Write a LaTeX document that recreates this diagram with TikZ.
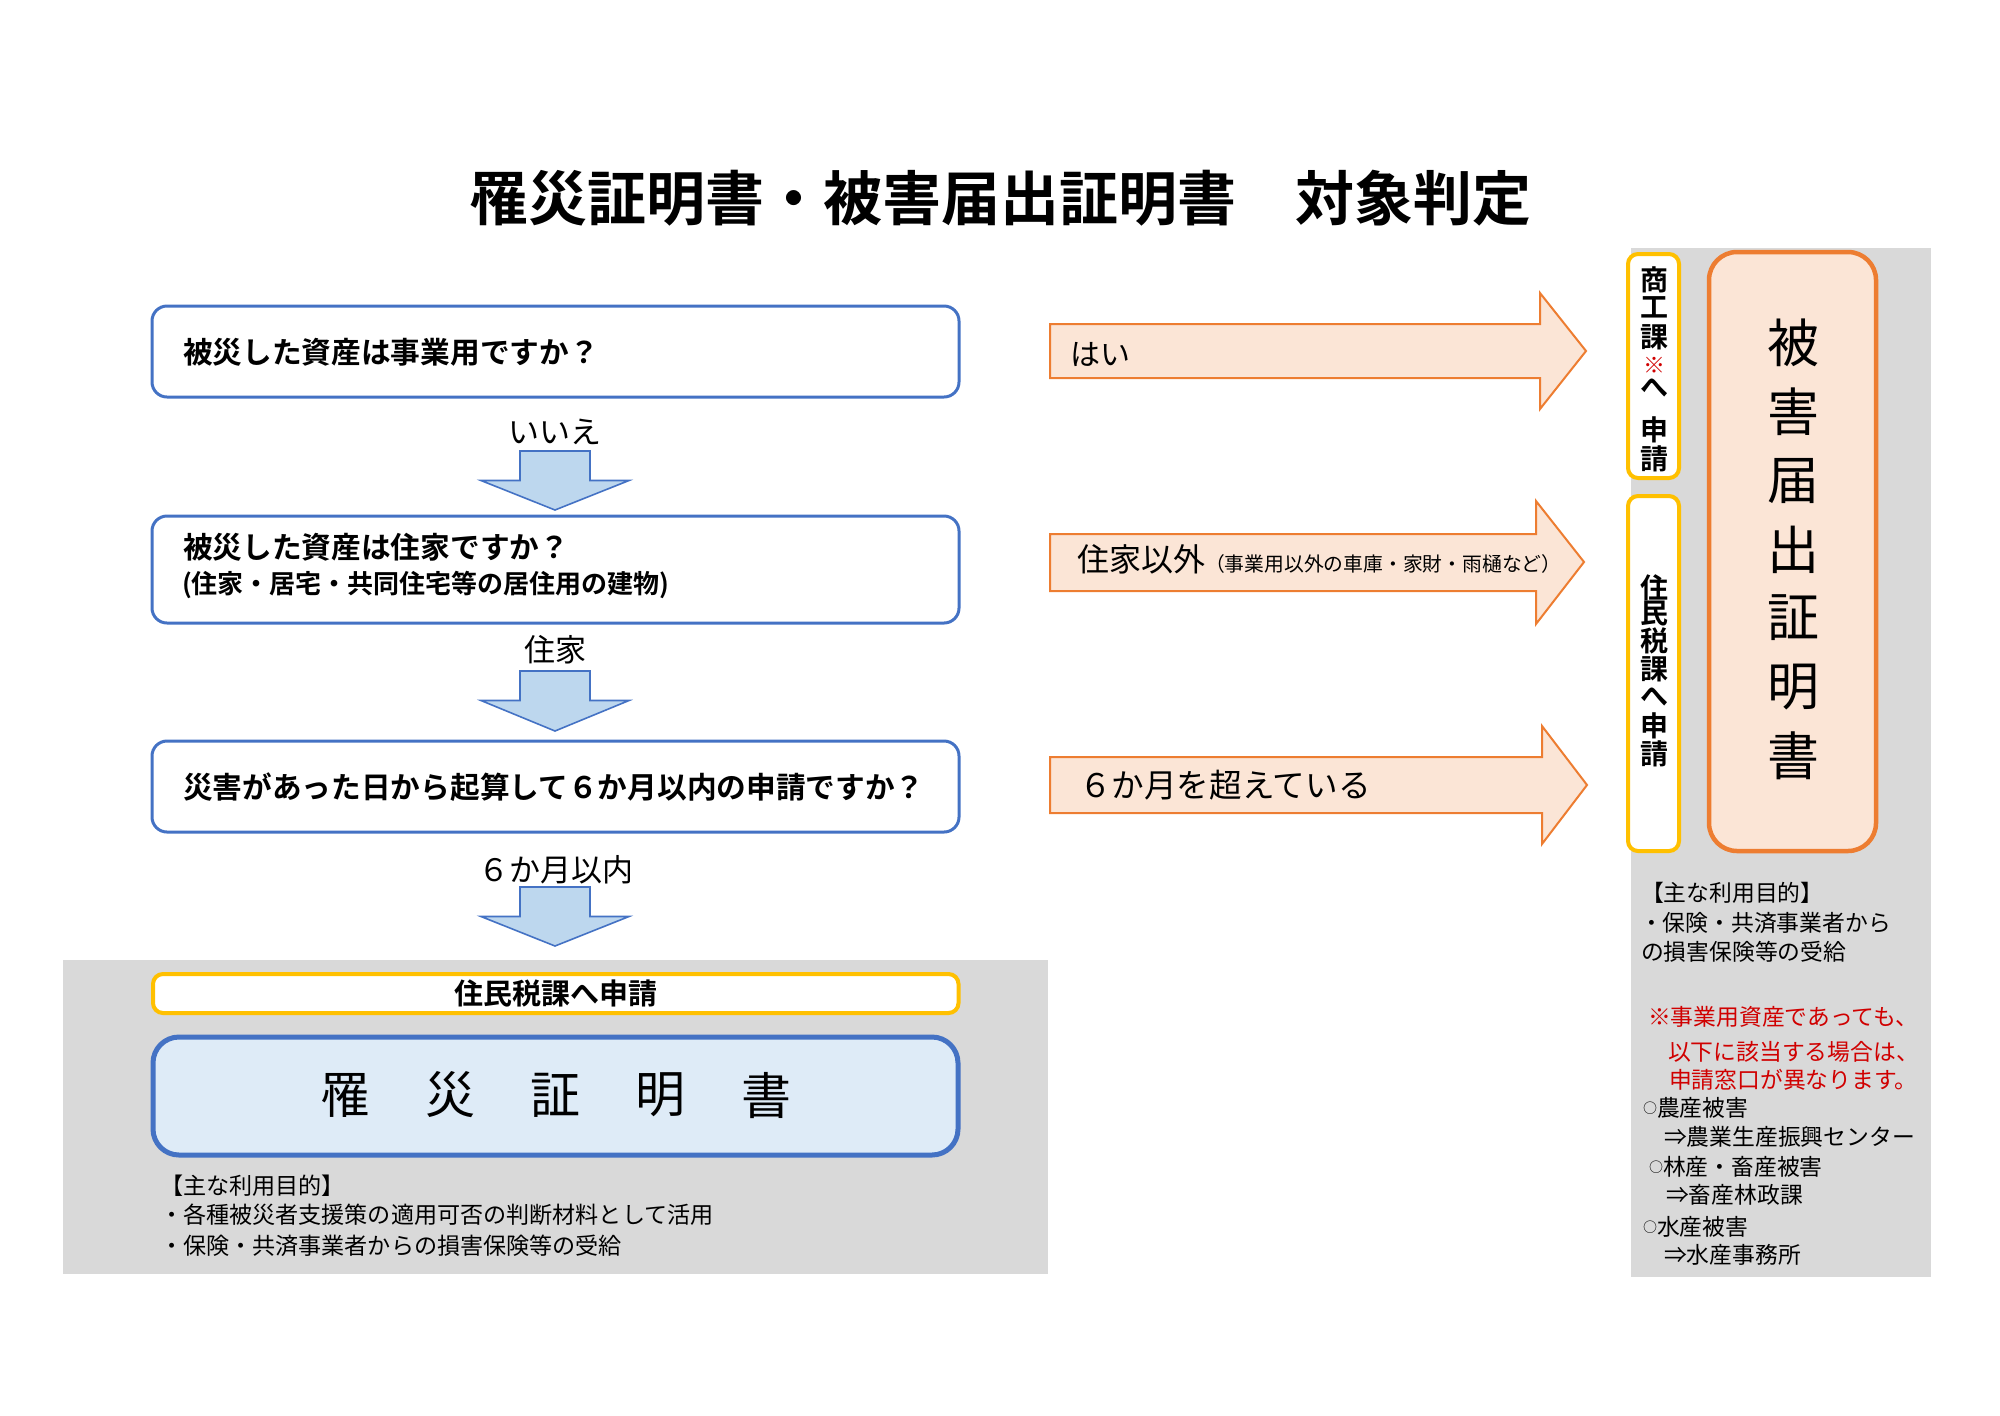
\documentclass[tikz,border=0pt]{standalone}
\usepackage{fontspec}
\setmainfont{Noto Sans CJK JP}[BoldFont={Noto Sans CJK JP Bold}]
\usetikzlibrary{fit}
\definecolor{qblue}{HTML}{4472C4}
\definecolor{lblue}{HTML}{DEEBF7}
\definecolor{ablue}{HTML}{BDD7EE}
\definecolor{peach}{HTML}{FBE5D6}
\definecolor{orng}{HTML}{ED7D31}
\definecolor{yel}{HTML}{FFC000}
\definecolor{gry}{HTML}{D9D9D9}
\definecolor{redtxt}{HTML}{D00000}
\newcommand\fsz[1]{\fontsize{#1pt}{#1pt}\selectfont}
\newcommand\smallcirc{\raisebox{1.8pt}{\fsz{7}○}}
\newcommand\blockdown[3]{\draw[barrow] (#1-35,#2) -- (#1+35,#2) -- (#1+35,#2+29.5) -- (#1+74,#2+29.5) -- (#1,#3) -- (#1-74,#2+29.5) -- (#1-35,#2+29.5) -- cycle;}
\newcommand\blockright[7]{\draw[oarrow] (1050,#1) -- (#3,#1) -- (#3,#4) -- (#6,#7) -- (#3,#5) -- (#3,#2) -- (1050,#2) -- cycle;}
\tikzset{
  qbox/.style={draw=qblue, line width=1.5pt, rounded corners=7.5pt, fill=white, inner sep=0pt},
  ybox/.style={draw=yel, line width=2pt, rounded corners=5pt, fill=white, inner sep=0pt},
  certbox/.style={draw=qblue, line width=2.5pt, rounded corners=13pt, fill=lblue, inner sep=0pt},
  obox/.style={draw=orng, line width=2.25pt, rounded corners=14pt, fill=peach, inner sep=0pt},
  panel/.style={fill=gry, draw=none, inner sep=0pt},
  barrow/.style={fill=ablue, draw=qblue, line width=0.8pt, line join=miter},
  oarrow/.style={fill=peach, draw=orng, line width=1pt, line join=miter},
  qtext/.style={anchor=west, font=\bfseries\fsz{14.85}},
  lbl/.style={font=\fsz{15.5}},
  otext/.style={anchor=west, font=\fsz{16.3}},
  note/.style={anchor=west, font=\fsz{11.55}},
  rnote/.style={anchor=west, font=\fsz{11.4}},
  vlab/.style={font=\bfseries\fsz{14}},
  vbig/.style={font=\fsz{26}},
  cert/.style={font=\fsz{25}}
}
\begin{document}
\begin{tikzpicture}[x=0.5pt,y=-0.5pt, every node/.style={inner sep=0pt, outer sep=0pt}]
\useasboundingbox (0,0) rectangle (2000,1415);

% title
\node[font=\bfseries\fsz{29.5}] (title) at (1000,198) {罹災証明書・被害届出証明書　対象判定};

% gray panels
\node[panel, fit={(62.5,960) (1048,1274)}] (leftpanel) {};
\node[panel, fit={(1631,248) (1931,1277)}] (rightpanel) {};

% question boxes
\node[qbox, fit={(152,306) (959,397)}] (q1) {};
\node[qtext] (q1t) at (183,352) {被災した資産は事業用ですか？};
\node[qbox, fit={(152,516) (959,623)}] (q2) {};
\node[qtext] (q2t) at (183,547) {被災した資産は住家ですか？};
\node[qtext, font=\bfseries\fsz{13}] (q2s) at (182,585) {(住家・居宅・共同住宅等の居住用の建物)};
\node[qbox, fit={(152,741) (959,832)}] (q3) {};
\node[qtext] (q3t) at (183,787) {災害があった日から起算して６か月以内の申請ですか？};

% down arrows
\node[lbl] (a1) at (555,432) {いいえ};
\blockdown{555}{451}{510}
\node[lbl] (a2) at (555,650) {住家};
\blockdown{555}{671}{731}
\node[lbl] (a3) at (556,870) {６か月以内};
\blockdown{555}{887}{946}

% bottom left
\node[ybox, fit={(153,974) (958.5,1013)}] (yb) {};
\node[font=\bfseries\fsz{14.5}] (ybt) at (556,993) {住民税課へ申請};
\node[certbox, fit={(153,1037) (958,1155)}] (rs) {};
\foreach \c/\x [count=\i] in {罹/345.5,災/450.6,証/555.8,明/660.9,書/766}
  \node[cert] (rs\i) at (\x,1095) {\c};
\node[note] (bl1) at (160,1186) {【主な利用目的】};
\node[note] (bl2) at (160,1215) {・各種被災者支援策の適用可否の判断材料として活用};
\node[note] (bl3) at (160,1246) {・保険・共済事業者からの損害保険等の受給};

% right arrows
\blockright{324}{378}{1540}{293}{409}{1586}{351}
\node[otext, font=\fsz{15}] (o1) at (1070,354) {はい};
\blockright{534}{591}{1536}{501}{624}{1584}{562}
\node[otext, font=\fsz{16}] (o2) at (1077,559) {住家以外{\fsz{9.9}（事業用以外の車庫・家財・雨樋など）}};
\blockright{757}{813}{1542}{726}{844}{1587}{785}
\node[otext] (o3) at (1079,785) {６か月を超えている};

% right side boxes
\node[ybox, fit={(1628,254) (1679,478)}] (yk) {};
\foreach \c/\y [count=\i] in {商/280,工/307,課/337,へ/388,申/430,請/459}
  \node[vlab] (yk\i) at (1654,\y) {\c};
\node[font=\bfseries\fsz{11}, text=redtxt] (ykm) at (1654,365) {※};
\node[ybox, fit={(1628,496) (1679,851)}] (yj) {};
\foreach \c/\y [count=\i] in {住/588,民/614,税/641,課/669,へ/697,申/726,請/754}
  \node[vlab] (yj\i) at (1654,\y) {\c};
\node[obox, fit={(1709,252) (1876,851)}] (hb) {};
\foreach \c/\y [count=\i] in {被/343,害/412,届/481,出/550,証/618,明/687,書/756}
  \node[vbig] (hb\i) at (1793,\y) {\c};

% right notes
\node[rnote] (r1) at (1641,893) {【主な利用目的】};
\node[rnote] (r2) at (1640,923) {・保険・共済事業者から};
\node[rnote] (r3) at (1641,952) {の損害保険等の受給};
\node[rnote, text=redtxt] (r4) at (1648,1017) {※事業用資産であっても、};
\node[rnote, text=redtxt] (r5) at (1668,1052) {以下に該当する場合は、};
\node[rnote, text=redtxt] (r6) at (1669,1080) {申請窓口が異なります。};
\node[rnote] (r7) at (1643,1108) {\smallcirc 農産被害};
\node[rnote] (r8) at (1664,1137) {⇒農業生産振興センター};
\node[rnote] (r9) at (1649,1167) {\smallcirc 林産・畜産被害};
\node[rnote] (r10) at (1666,1195) {⇒畜産林政課};
\node[rnote] (r11) at (1643,1227) {\smallcirc 水産被害};
\node[rnote] (r12) at (1664,1255) {⇒水産事務所};
\end{tikzpicture}
\end{document}
